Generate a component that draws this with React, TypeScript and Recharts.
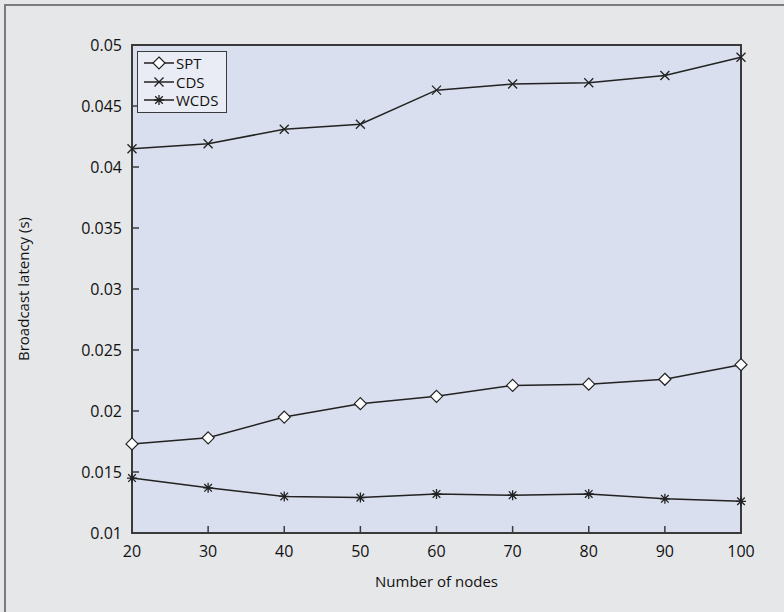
import * as React from "react"
import { LineChart, Line, XAxis, YAxis, Legend, ReferenceArea } from "recharts"

const nodes = [20, 30, 40, 50, 60, 70, 80, 90, 100]
const spt = [0.0173, 0.0178, 0.0195, 0.0206, 0.0212, 0.0221, 0.0222, 0.0226, 0.0238]
const cds = [0.0415, 0.0419, 0.0431, 0.0435, 0.0463, 0.0468, 0.0469, 0.0475, 0.049]
const wcds = [0.0145, 0.0137, 0.013, 0.0129, 0.0132, 0.0131, 0.0132, 0.0128, 0.0126]

const xTicks = [20, 30, 40, 50, 60, 70, 80, 90, 100]
const yTicks = [0.01, 0.015, 0.02, 0.025, 0.03, 0.035, 0.04, 0.045, 0.05]

const data = nodes.map((n, i) => ({ n, spt: spt[i], cds: cds[i], wcds: wcds[i] }))

const INK = "#222"
const FRAME = "#3a3a3a"
const TICK = 7

function Diamond({ cx, cy }: any) {
  if (cx == null || cy == null) return null
  return (
    <path
      d={`M${cx},${cy - 6} L${cx + 6},${cy} L${cx},${cy + 6} L${cx - 6},${cy} Z`}
      fill="#fff"
      stroke={INK}
      strokeWidth={1.2}
    />
  )
}

function Cross({ cx, cy }: any) {
  if (cx == null || cy == null) return null
  const r = 4.5
  return (
    <path
      d={`M${cx - r},${cy - r} L${cx + r},${cy + r} M${cx - r},${cy + r} L${cx + r},${cy - r}`}
      stroke={INK}
      strokeWidth={1.3}
      fill="none"
    />
  )
}

function Star({ cx, cy }: any) {
  if (cx == null || cy == null) return null
  const r = 5
  const d = 3.8
  return (
    <path
      d={`M${cx},${cy - r} L${cx},${cy + r} M${cx - r},${cy} L${cx + r},${cy} M${cx - d},${cy - d} L${cx + d},${cy + d} M${cx - d},${cy + d} L${cx + d},${cy - d}`}
      stroke={INK}
      strokeWidth={1.3}
      fill="none"
    />
  )
}

const series = [
  { key: "spt", name: "SPT", Mark: Diamond },
  { key: "cds", name: "CDS", Mark: Cross },
  { key: "wcds", name: "WCDS", Mark: Star },
]

// inward ticks, MATLAB style
const X_MARGIN = 13
const Y_MARGIN = 10

function BottomTick({ x, y, payload }: any) {
  const ay = y - X_MARGIN
  return (
    <g>
      <path d={`M${x},${ay} V${ay - TICK}`} stroke={FRAME} strokeWidth={1.5} fill="none" />
      <text x={x} y={y} dy="0.71em" textAnchor="middle" fontSize={16} fill="#111">
        {payload.value}
      </text>
    </g>
  )
}

function LeftTick({ x, y, payload }: any) {
  const ax = x + Y_MARGIN
  return (
    <g>
      <path d={`M${ax},${y} H${ax + TICK}`} stroke={FRAME} strokeWidth={1.5} fill="none" />
      <text x={x} y={y} dy="0.355em" textAnchor="end" fontSize={16} fill="#111">
        {payload.value}
      </text>
    </g>
  )
}

function TopTick({ x, y }: any) {
  return <path d={`M${x},${y} V${y + TICK}`} stroke={FRAME} strokeWidth={1.5} fill="none" />
}

function RightTick({ x, y }: any) {
  return <path d={`M${x},${y} H${x - TICK}`} stroke={FRAME} strokeWidth={1.5} fill="none" />
}

function LegendBox() {
  return (
    <div
      style={{
        border: `1.5px solid ${FRAME}`,
        background: "#e9ecf4",
        padding: "2px 8px 2px 5px",
        fontSize: 15,
        color: "#111",
      }}
    >
      {series.map(({ key, name, Mark }) => (
        <div key={key} style={{ display: "flex", alignItems: "center", height: 18.5 }}>
          <svg width={32} height={18} style={{ display: "block" }}>
            <line x1={1} y1={9} x2={31} y2={9} stroke={INK} strokeWidth={1.5} />
            <Mark cx={16} cy={9} />
          </svg>
          <span style={{ marginLeft: 1, lineHeight: "18px" }}>{name}</span>
        </div>
      ))}
    </div>
  )
}

export default function App() {
  return (
    <div
      style={{
        position: "absolute",
        left: 0,
        top: 0,
        width: 784,
        height: 612,
        overflow: "hidden",
        background: "#e6e7e9",
        fontFamily: "'Open Sans', sans-serif",
      }}
    >
      <div
        style={{
          position: "absolute",
          left: 4,
          top: 4,
          width: 800,
          height: 640,
          borderLeft: "2px solid #7c7c7c",
          borderTop: "2px solid #7c7c7c",
        }}
      />
      {/* plot background */}
      <div
        style={{
          position: "absolute",
          left: 132,
          top: 45,
          width: 609,
          height: 488,
          background: "#d9dfee",
        }}
      />
      <LineChart
        width={784}
        height={612}
        data={data}
        margin={{ top: 45, right: 43, bottom: 0, left: 0 }}
        style={{ position: "absolute", left: 0, top: 0 }}
      >
        <XAxis
          dataKey="n"
          type="number"
          domain={[20, 100]}
          ticks={xTicks}
          height={79}
          tickSize={0}
          tickMargin={X_MARGIN}
          axisLine={false}
          tickLine={false}
          tick={<BottomTick />}
          label={{
            content: ({ viewBox }: any) => (
              <text
                x={viewBox.x + viewBox.width / 2}
                y={viewBox.y + 54}
                textAnchor="middle"
                fontSize={15}
                fill="#111"
              >
                Number of nodes
              </text>
            ),
          }}
        />
        <XAxis
          xAxisId="top"
          dataKey="n"
          type="number"
          orientation="top"
          domain={[20, 100]}
          ticks={xTicks.slice(1, -1)}
          height={0}
          mirror
          tickSize={0}
          tickMargin={0}
          axisLine={false}
          tickLine={false}
          tick={<TopTick />}
        />
        <YAxis
          type="number"
          domain={[0.01, 0.05]}
          ticks={yTicks}
          width={132}
          tickSize={0}
          tickMargin={Y_MARGIN}
          axisLine={false}
          tickLine={false}
          tick={<LeftTick />}
          label={{
            content: ({ viewBox }: any) => {
              const x = 23
              const y = viewBox.y + viewBox.height / 2
              return (
                <text
                  x={x}
                  y={y}
                  transform={`rotate(-90 ${x} ${y})`}
                  textAnchor="middle"
                  dominantBaseline="central"
                  fontSize={15}
                  fill="#111"
                >
                  Broadcast latency (s)
                </text>
              )
            },
          }}
        />
        <YAxis
          yAxisId="right"
          orientation="right"
          type="number"
          domain={[0.01, 0.05]}
          ticks={yTicks.slice(1, -1)}
          width={0}
          mirror
          tickSize={0}
          tickMargin={0}
          axisLine={false}
          tickLine={false}
          tick={<RightTick />}
        />
        <ReferenceArea x1={20} x2={100} y1={0.01} y2={0.05} fill="none" stroke={FRAME} strokeWidth={2} />
        {series.map(({ key, name, Mark }) => (
          <Line
            key={key}
            dataKey={key}
            name={name}
            stroke={INK}
            strokeWidth={1.5}
            dot={(p: any) => <Mark key={`${key}-${p.index}`} cx={p.cx} cy={p.cy} />}
            activeDot={false}
            isAnimationActive={false}
          />
        ))}
        <Legend
          layout="vertical"
          align="center"
          verticalAlign="middle"
          content={() => <LegendBox />}
          wrapperStyle={{ left: 137, top: 51, width: "auto", height: "auto" }}
        />
      </LineChart>
    </div>
  )
}
